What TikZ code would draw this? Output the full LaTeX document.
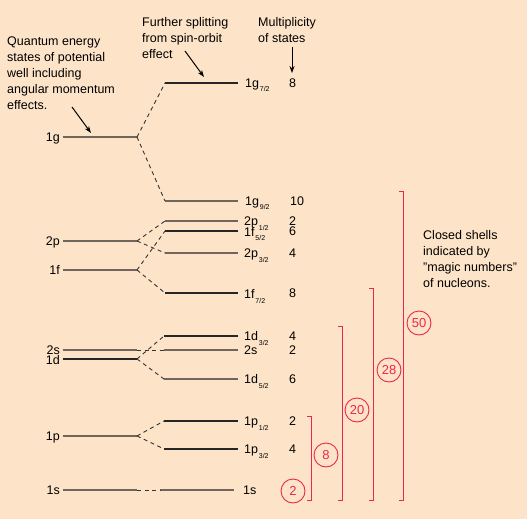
\documentclass[tikz,border=0pt]{standalone}
\usepackage{fontspec}
\setmainfont{Liberation Sans}
\usetikzlibrary{arrows.meta}
\definecolor{bg}{RGB}{253,228,200}
\definecolor{lvgray}{RGB}{112,102,94}
\definecolor{magic}{RGB}{236,40,72}
\newcommand{\lsub}[1]{\hspace{0.8pt}\raisebox{-4.5pt}{\fontsize{7}{7}\selectfont #1}}
\begin{document}
\begin{tikzpicture}[x=1pt,y=-1pt,
  font=\fontsize{12.5}{16}\selectfont,
  lev/.style={line width=1.5pt, draw=lvgray},
  levk/.style={line width=1.2pt, draw=black!85},
  conn/.style={dash pattern=on 4pt off 3.5pt, line width=0.9pt, draw=black!80},
  rlbl/.style={anchor=base west, inner sep=0pt},
  llbl/.style={anchor=base east, inner sep=0pt},
  mult/.style={anchor=base west, inner sep=0pt},
  brk/.style={draw=magic, line width=1pt},
  magicnum/.style={circle, draw=magic, text=magic, line width=0.9pt, minimum size=24pt, inner sep=0pt, font=\fontsize{13}{13}\selectfont},
  note/.style={align=left, anchor=north west, inner sep=0pt},
  pointer/.style={-{Stealth[length=7pt,width=5pt]}, line width=1pt}]
\fill[bg] (0,0) rectangle (527,519);
\useasboundingbox (0,0) rectangle (527,519);

% left levels
\coordinate (Lg-a) at (63,137); \coordinate (Lg-b) at (137,137);
\coordinate (Lp2-a) at (63,241); \coordinate (Lp2-b) at (137,241);
\coordinate (Lf-a) at (63,270); \coordinate (Lf-b) at (137,270);
\coordinate (Ls2-a) at (63,350); \coordinate (Ls2-b) at (137,350);
\coordinate (Ld-a) at (63,359); \coordinate (Ld-b) at (137,359);
\coordinate (Lp-a) at (63,436); \coordinate (Lp-b) at (137,436);
\coordinate (Ls-a) at (63,490); \coordinate (Ls-b) at (137,490);

\draw[lev] (Lg-a) -- (Lg-b);
\draw[lev] (Lp2-a) -- (Lp2-b);
\draw[lev] (Lf-a) -- (Lf-b);
\draw[lev] (Ls2-a) -- (Ls2-b);
\draw[levk] (Ld-a) -- (Ld-b);
\draw[lev] (Lp-a) -- (Lp-b);
\draw[lev] (Ls-a) -- (Ls-b);

\node[llbl] (tg) at (60,141.5) {1g};
\node[llbl] (tp2) at (60,245.5) {2p};
\node[llbl] (tf) at (60,274.5) {1f};
\node[llbl] (ts2) at (60,354) {2s};
\node[llbl] (td) at (60,364) {1d};
\node[llbl] (tp) at (60,440.5) {1p};
\node[llbl] (ts) at (60,494.5) {1s};

% right levels
\coordinate (g7-a) at (165,83); \coordinate (g7-b) at (238,83);
\coordinate (g9-a) at (165,201); \coordinate (g9-b) at (238,201);
\coordinate (p1-a) at (165,221); \coordinate (p1-b) at (238,221);
\coordinate (f5-a) at (165,231); \coordinate (f5-b) at (238,231);
\coordinate (p3-a) at (165,253); \coordinate (p3-b) at (238,253);
\coordinate (f7-a) at (165,293); \coordinate (f7-b) at (238,293);
\coordinate (d3-a) at (164,336); \coordinate (d3-b) at (238,336);
\coordinate (s2-a) at (164,350); \coordinate (s2-b) at (238,350);
\coordinate (d5-a) at (164,379); \coordinate (d5-b) at (238,379);
\coordinate (pa-a) at (164,421); \coordinate (pa-b) at (238,421);
\coordinate (pb-a) at (164,449); \coordinate (pb-b) at (238,449);
\coordinate (s1-a) at (160,490); \coordinate (s1-b) at (234,490);

\draw[levk] (g7-a) -- (g7-b);
\draw[lev] (g9-a) -- (g9-b);
\draw[lev] (p1-a) -- (p1-b);
\draw[levk] (f5-a) -- (f5-b);
\draw[lev] (p3-a) -- (p3-b);
\draw[levk] (f7-a) -- (f7-b);
\draw[levk] (d3-a) -- (d3-b);
\draw[lev] (s2-a) -- (s2-b);
\draw[lev] (d5-a) -- (d5-b);
\draw[levk] (pa-a) -- (pa-b);
\draw[levk] (pb-a) -- (pb-b);
\draw[lev] (s1-a) -- (s1-b);

% splitting connectors
\draw[conn] (Lg-b) -- (g7-a);
\draw[conn] (Lg-b) -- (g9-a);
\draw[conn] (Lp2-b) -- (p1-a);
\draw[conn] (Lp2-b) -- (p3-a);
\draw[conn] (Lf-b) -- (f5-a);
\draw[conn] (Lf-b) -- (f7-a);
\draw[conn] (Ls2-b) -- (s2-a);
\draw[conn] (Ld-b) -- (d3-a);
\draw[conn] (Ld-b) -- (d5-a);
\draw[conn] (Lp-b) -- (pa-a);
\draw[conn] (Lp-b) -- (pb-a);
\draw[conn] (Ls-b) -- (s1-a);

% right labels
\node[rlbl] (rg7) at (245,87.5) {1g\lsub{7/2}};
\node[rlbl] (rg9) at (245,205) {1g\lsub{9/2}};
\node[rlbl] (rp1) at (244,225.5) {2p\lsub{1/2}};
\node[rlbl] (rf5) at (244,236) {1f\lsub{5/2}};
\node[rlbl] (rp3) at (244,257.5) {2p\lsub{3/2}};
\node[rlbl] (rf7) at (244,298.5) {1f\lsub{7/2}};
\node[rlbl] (rd3) at (244,340.5) {1d\lsub{3/2}};
\node[rlbl] (rs2) at (244,354.5) {2s};
\node[rlbl] (rd5) at (244,383.5) {1d\lsub{5/2}};
\node[rlbl] (rpa) at (244,425.5) {1p\lsub{1/2}};
\node[rlbl] (rpb) at (244,453.5) {1p\lsub{3/2}};
\node[rlbl] (rs1) at (243,494.5) {1s};

% multiplicities
\node[mult] (m1) at (289,87.5) {8};
\node[mult] (m2) at (290,205.5) {10};
\node[mult] (m3) at (289,225.5) {2};
\node[mult] (m4) at (289,235.5) {6};
\node[mult] (m5) at (289,257.5) {4};
\node[mult] (m6) at (289,297.5) {8};
\node[mult] (m7) at (289,340.5) {4};
\node[mult] (m8) at (289,354.5) {2};
\node[mult] (m9) at (289,383.5) {6};
\node[mult] (m10) at (289,425.5) {2};
\node[mult] (m11) at (289,453.5) {4};

% notes and pointers
\node[note] (nq) at (7,37) {Quantum energy\\states of potential\\well including\\angular momentum\\effects.};
\node[note] (nf) at (142,17) {Further splitting\\from spin-orbit\\effect};
\node[note] (nm) at (258,17) {Multiplicity\\of states};
\node[note] (nc) at (423,230) {Closed shells\\indicated by\\"magic numbers"\\of nucleons.};

\coordinate (aq1) at (72,107); \coordinate (aq2) at (91,133);
\coordinate (af1) at (185,51); \coordinate (af2) at (204,77);
\coordinate (am1) at (292,47); \coordinate (am2) at (292,73);
\draw[pointer] (aq1) -- (aq2);
\draw[pointer] (af1) -- (af2);
\draw[pointer] (am1) -- (am2);

% brackets
\draw[brk] (307,416) -- (311,416) -- (311,500) -- (307,500);
\draw[brk] (338,326) -- (342,326) -- (342,500) -- (338,500);
\draw[brk] (369,288) -- (373,288) -- (373,500) -- (369,500);
\draw[brk] (399,191) -- (403,191) -- (403,500) -- (399,500);

% magic numbers
\node[magicnum] (c2) at (293,491) {2};
\node[magicnum] (c8) at (326,455) {8};
\node[magicnum] (c20) at (357,410) {20};
\node[magicnum] (c28) at (389,370) {28};
\node[magicnum] (c50) at (419,323) {50};
\end{tikzpicture}
\end{document}
